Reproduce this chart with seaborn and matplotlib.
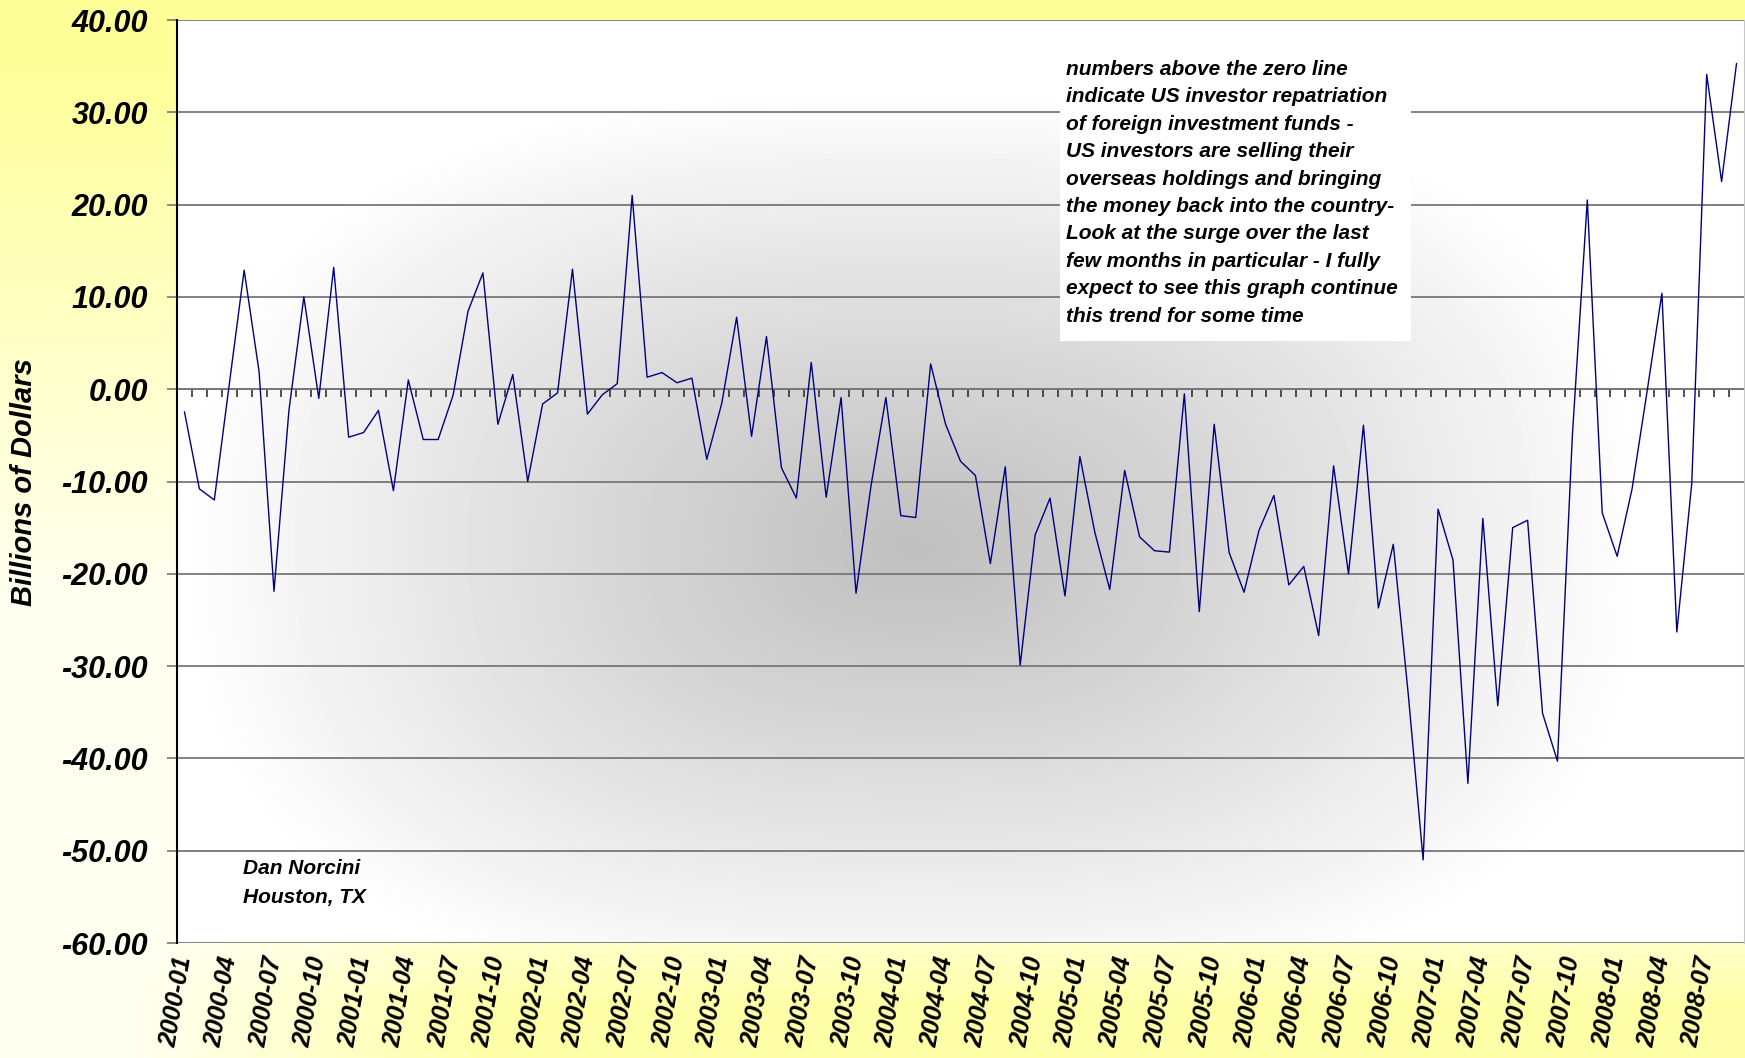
import numpy as np
import pandas as pd
import seaborn as sns
import matplotlib.pyplot as plt
from matplotlib.patches import Rectangle
from matplotlib.ticker import FormatStrFormatter

# monthly net flow (billions of dollars), one value per month from 2000-01
first_month = '2000-01'
flows = [-2.45, -10.8, -12.0, 0.5, 12.9, 1.9, -21.9, -2.3, 10.0, -1.0,
         13.2, -5.2, -4.7, -2.3, -11.0, 1.0, -5.45, -5.45, -0.65, 8.45,
         12.6, -3.8, 1.6, -10.0, -1.6, -0.4, 13.0, -2.7, -0.6, 0.6,
         21.0, 1.3, 1.8, 0.7, 1.2, -7.6, -1.55, 7.8, -5.1, 5.7,
         -8.5, -11.8, 2.9, -11.7, -0.9, -22.1, -10.5, -0.9, -13.7, -13.9,
         2.75, -3.8, -7.8, -9.35, -18.9, -8.4, -29.9, -15.8, -11.8, -22.4,
         -7.3, -15.5, -21.7, -8.8, -16.0, -17.5, -17.65, -0.5, -24.1, -3.8,
         -17.7, -22.0, -15.3, -11.5, -21.2, -19.2, -26.7, -8.3, -20.0, -3.9,
         -23.7, -16.8, -33.0, -51.0, -13.0, -18.5, -42.7, -14.0, -34.3, -15.0,
         -14.2, -35.1, -40.3, -5.0, 20.5, -13.4, -18.1, -10.8, -0.3, 10.4,
         -26.3, -10.2, 34.1, 22.5, 35.3]

y_ticks = [-60, -50, -40, -30, -20, -10, 0, 10, 20, 30, 40]

note_lines = ['numbers above the zero line',
              'indicate US investor repatriation',
              'of foreign investment funds -',
              'US investors are selling their',
              'overseas holdings and bringing',
              'the money back into the country-',
              'Look at the surge over the last',
              'few months in particular - I fully',
              'expect to see this graph continue',
              'this trend for some time']
sign_lines = ['Dan Norcini', 'Houston, TX']

months = pd.period_range(first_month, periods=len(flows), freq='M').strftime('%Y-%m')
df = pd.DataFrame({'pos': np.arange(len(flows)), 'month': months, 'flow': flows})
tick_pos = df['pos'][::3]
tick_labels = df['month'][::3]

sns.set_style('white')
plt.rcParams['font.family'] = ['Liberation Sans', 'DejaVu Sans']
plt.rcParams['text.color'] = 'black'
plt.rcParams['xtick.color'] = 'black'
plt.rcParams['ytick.color'] = 'black'
plt.rcParams['axes.labelcolor'] = 'black'

W, H = 1745, 1058
fig = plt.figure(figsize=(W / 100, H / 100), dpi=100)

# yellow backdrop of the whole picture
bg = fig.add_axes([0, 0, 1, 1], zorder=-10)
bg.axis('off')
yy, xx = np.mgrid[0:1:300j, 0:1:300j]
top = np.clip((yy - 0.35) / 0.6, 0, 1)
bottom = np.clip((0.2 - yy) / 0.15, 0, 1) * 0.85 * np.clip((xx - 0.03) / 0.25, 0, 1)
w = np.maximum(np.maximum(top, bottom), 0.15)
rgb = np.dstack([np.ones_like(w), np.ones_like(w), 1 - 0.4 * w])
bg.imshow(rgb, extent=(0, 1, 0, 1), origin='lower', aspect='auto', interpolation='bicubic')
bg.set_xlim(0, 1)
bg.set_ylim(0, 1)

# plot area
left, right, ytop, ybot = 177, 1744, 20, 943
ax = fig.add_axes([left / W, 1 - ybot / H, (right - left) / W, (ybot - ytop) / H])

# grey "from centre" shading of the plot area, squarish like the original
gy, gx = np.mgrid[0:1:300j, 0:1:300j]
p = 2.6
d = (np.abs((gx - 0.47) / 0.47) ** p + np.abs((gy - 0.43) / 0.5) ** p) ** (1 / p)
shade = 0.75 + 0.25 * np.clip(d, 0, 1) ** 1.1
ax.imshow(shade, cmap='gray', vmin=0, vmax=1, extent=(0, 1, 0, 1), transform=ax.transAxes,
          origin='lower', aspect='auto', interpolation='bicubic', zorder=0)

sns.lineplot(data=df, x='pos', y='flow', color='#000080', lw=1.0, ax=ax, zorder=3)

ax.set_xlim(-0.5, len(flows) - 0.5)
ax.set_ylim(-60, 40)
ax.set_yticks(y_ticks)
ax.yaxis.set_major_formatter(FormatStrFormatter('%.2f'))
ax.grid(axis='y', color='#777777', lw=1.3)
ax.grid(axis='x', visible=False)
ax.set_xlabel('')
ax.set_ylabel('')

ax.set_xticks(tick_pos)
ax.set_xticklabels(tick_labels, rotation=80, ha='right', va='center', rotation_mode='anchor',
                   fontsize=18, fontweight='bold', fontstyle='italic')
ax.tick_params(axis='x', length=0, pad=10)
for lab in ax.get_yticklabels():
    lab.set_fontsize(22)
    lab.set_fontweight('bold')
    lab.set_fontstyle('italic')
ax.tick_params(axis='y', direction='out', length=7, width=1.3, color='#808080', pad=14, left=True)

for side in ['top', 'bottom']:
    ax.spines[side].set_visible(False)
ax.spines['right'].set_color('#c8c8c8')
ax.spines['left'].set_color('black')
ax.spines['left'].set_linewidth(1.5)

# small month ticks hanging under the zero line
zero_axis = ax.secondary_xaxis(0.6)
zero_axis.set_xticks(np.arange(0.5, len(flows) - 0.5, 1))
zero_axis.set_xticklabels([])
zero_axis.tick_params(direction='in', length=6, width=1.2, color='#333333')
zero_axis.spines['top'].set_color('#777777')
zero_axis.spines['top'].set_linewidth(1.3)

fig.text(24 / W, 1 - 482 / H, 'Billions of Dollars', rotation=90, ha='center', va='center',
         fontsize=21, fontweight='bold', fontstyle='italic')

# note box
fig.add_artist(Rectangle((1060 / W, 1 - 341 / H), (1411 - 1060) / W, (341 - 50) / H,
                         transform=fig.transFigure, facecolor='white', edgecolor='none', zorder=5))
for i, line in enumerate(note_lines):
    fig.text(1066 / W, 1 - (75 + 27.4 * i) / H, line, ha='left', va='baseline',
             fontsize=15, fontweight='bold', fontstyle='italic', zorder=6)

for i, line in enumerate(sign_lines):
    fig.text(243 / W, 1 - (874 + 29 * i) / H, line, ha='left', va='baseline',
             fontsize=15, fontweight='bold', fontstyle='italic', zorder=6)

fig.savefig('out.png', dpi=100)
